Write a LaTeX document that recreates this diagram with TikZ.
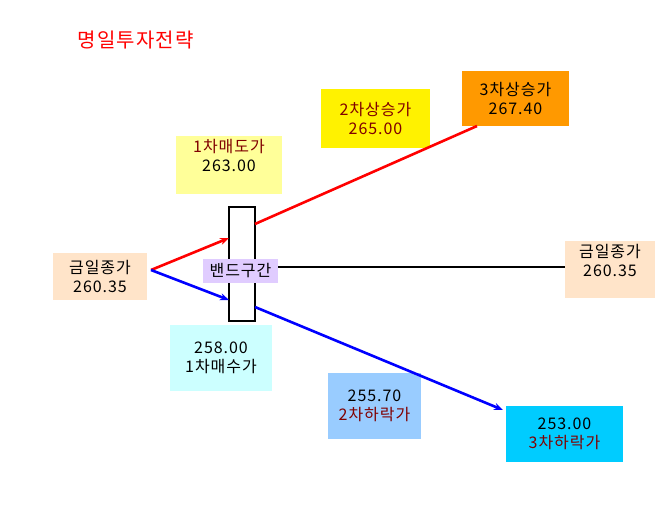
\documentclass[tikz,border=0pt]{standalone}
\usepackage{fontspec}
\setmainfont{Noto Sans CJK KR}[LetterSpace=6]
\usetikzlibrary{arrows.meta}
\definecolor{dred}{HTML}{800000}
\definecolor{peach}{HTML}{FFE4C9}
\definecolor{pyellow}{HTML}{FFFF99}
\definecolor{orangeb}{HTML}{FF9900}
\definecolor{lav}{HTML}{E0CCFF}
\definecolor{lcyan}{HTML}{CCFFFF}
\definecolor{sky}{HTML}{99CCFF}
\definecolor{cyanb}{HTML}{00CCFF}
\tikzset{
  pbox/.style={inner sep=0pt, align=center, font=\fontsize{16}{19}\selectfont},
  arr/.style={-{Stealth[length=9pt,width=7pt]}},
}
\begin{document}
\begin{tikzpicture}[x=1pt,y=-1pt]
\useasboundingbox (0,0) rectangle (665,508);
\node[text=red, font=\fontsize{20}{22}\selectfont, anchor=west] (title) at (74,40) {명일투자전략};
% boxes
\node[pbox, fill=pyellow, minimum width=106pt, minimum height=58pt, text depth=20pt] (sell1) at (229,165) {\textcolor{dred}{1차매도가}\\263.00};
\node[pbox, fill=yellow, minimum width=109pt, minimum height=59pt, text=dred] (up2) at (375.5,118.5) {2차상승가\\265.00};
\node[pbox, fill=orangeb, minimum width=107pt, minimum height=55pt] (up3) at (515.5,98.5) {3차상승가\\267.40};
\node[pbox, fill=peach, minimum width=94pt, minimum height=47pt] (closeL) at (100,276.5) {금일종가\\260.35};
\node[pbox, fill=peach, minimum width=90pt, minimum height=57pt, text depth=18pt] (closeR) at (610,269.5) {금일종가\\260.35};
\node[pbox, fill=lcyan, minimum width=102pt, minimum height=66pt] (buy1) at (221,358) {258.00\\1차매수가};
\node[pbox, fill=sky, minimum width=93pt, minimum height=66pt] (down2) at (374.5,406) {255.70\\\textcolor{dred}{2차하락가}};
\node[pbox, fill=cyanb, minimum width=117pt, minimum height=56pt] (down3) at (564.5,434) {253.00\\\textcolor{dred}{3차하락가}};
% band
\node[draw=black, line width=1.6pt, fill=white, minimum width=26pt, minimum height=114pt, inner sep=0pt] (band) at (242,264) {};
\node[pbox, fill=lav, minimum width=75pt, minimum height=24pt] (bandlbl) at (240.5,271) {밴드구간};
% coordinates
\coordinate (s) at (151,270);
\coordinate (rtip) at (229,238);
\coordinate (btip) at (229,300);
\coordinate (rstart) at (255,224);
\coordinate (rend) at (477,126);
\coordinate (bstart) at (255,307);
\coordinate (bend) at (503,410);
% connectors
\draw[red, line width=2.6pt, arr] (s) -- (rtip);
\draw[blue, line width=2.6pt, arr] (s) -- (btip);
\draw[red, line width=2.6pt] (rstart) -- (rend);
\draw[blue, line width=2.6pt, arr] (bstart) -- (bend);
\draw[black, line width=1.6pt] (bandlbl.east |- 0,267) -- (closeR.west |- 0,267);
\end{tikzpicture}
\end{document}
